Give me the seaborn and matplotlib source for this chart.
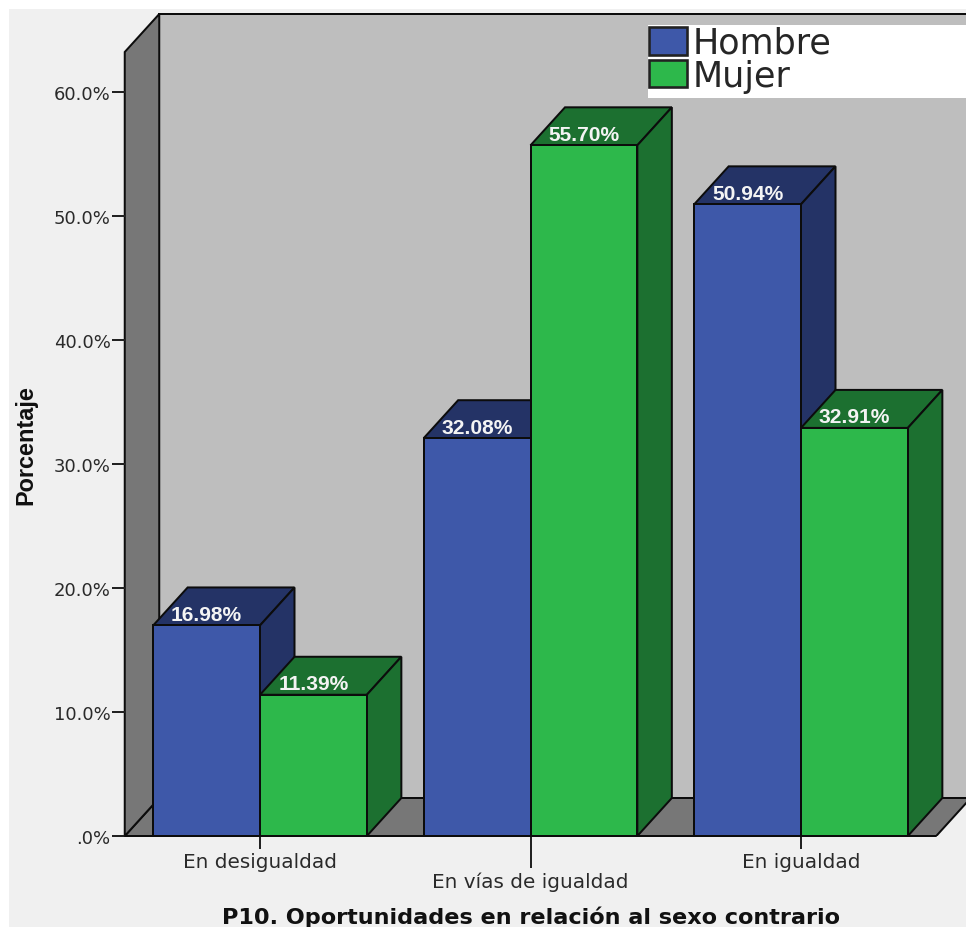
import matplotlib
matplotlib.use("Agg")
import matplotlib.pyplot as plt
from matplotlib.patches import Polygon, Rectangle, Patch
from matplotlib.lines import Line2D
from matplotlib.transforms import IdentityTransform
import pandas as pd
import seaborn as sns

# Survey results, percent of each sex per answer
categories = ["En desigualdad", "En vías de igualdad", "En igualdad"]
hombre = [16.98, 32.08, 50.94]
mujer = [11.39, 55.70, 32.91]
series_names = ["Hombre", "Mujer"]
y_ticks = [0, 10, 20, 30, 40, 50, 60]
y_tick_labels = [".0%", "10.0%", "20.0%", "30.0%", "40.0%", "50.0%", "60.0%"]

W, H = 966, 928
DPI = 100
PT = 72 / DPI  # points per pixel

FRONT = {"Hombre": "#3E58A9", "Mujer": "#2DB84B"}
DARK = {"Hombre": "#243366", "Mujer": "#1C7030"}
WALL = "#BEBEBE"
SIDE = "#777777"
EDGE = "#0c0c0c"
LW = 2 * PT

sns.set_theme(style="white")
plt.rcParams["font.family"] = ["Liberation Sans", "DejaVu Sans"]

df = pd.DataFrame({
    "categoria": categories * 2,
    "sexo": [series_names[0]] * 3 + [series_names[1]] * 3,
    "porcentaje": hombre + mujer,
})

fig = plt.figure(figsize=(W / DPI, H / DPI), dpi=DPI, facecolor="white")
fig.add_artist(Rectangle((9 / W, 0), 1, 1 - 10 / H, transform=fig.transFigure,
                         facecolor="#F0F0F0", edgecolor="none", zorder=-10))

# Axes run from the front floor corner to the top of the back wall
left, right, bottom, top = 124.75, 966, 837, 15
ax = fig.add_axes([left / W, 1 - bottom / H, (right - left) / W, (bottom - top) / H])
ax.patch.set_visible(False)
x_per_px = 1 / 270.5
y_per_px = 1 / 12.4
DX, DY = 34.5 * x_per_px, 38 * y_per_px

sns.barplot(data=df, x="categoria", y="porcentaje", hue="sexo", order=categories,
            hue_order=series_names, palette=FRONT, width=0.79, legend=False,
            edgecolor=EDGE, linewidth=LW, saturation=1, ax=ax)
ax.set_xlim(-0.5, -0.5 + (right - left) * x_per_px)
ax.set_ylim(0, (bottom - top) * y_per_px)
y_top = ax.get_ylim()[1]
x_max = ax.get_xlim()[1]

bars = sorted([p for p in ax.patches if p.get_width() < 0.5], key=lambda p: p.get_x())

# Box: back wall, left wall and floor
x0, x1 = -0.5, 2.5
ax.add_patch(Rectangle((x0 + DX, DY), 2 * x_max, y_top - DY, facecolor=WALL, edgecolor=EDGE,
                       linewidth=LW, zorder=0.1, clip_on=False))
ax.add_patch(Polygon([(x0, 0), (x0 + DX, DY), (x1 + DX, DY), (x1, 0)], closed=True,
                     facecolor=SIDE, edgecolor=EDGE, linewidth=LW, zorder=0.2))
ax.add_patch(Polygon([(x0, 0), (x0 + DX, DY), (x0 + DX, y_top), (x0, y_top - DY)], closed=True,
                     facecolor=SIDE, edgecolor=EDGE, linewidth=LW, zorder=0.3, clip_on=False))

# Extrude each bar, drawing left to right so nearer faces cover farther ones
for i, bar in enumerate(bars):
    name = series_names[i % 2]
    xa, w, h = bar.get_x(), bar.get_width(), bar.get_height()
    z = 1 + i
    ax.add_patch(Polygon([(xa, h), (xa + DX, h + DY), (xa + w + DX, h + DY), (xa + w, h)],
                         closed=True, facecolor=DARK[name], edgecolor=EDGE, linewidth=LW, zorder=z))
    ax.add_patch(Polygon([(xa + w, 0), (xa + w + DX, DY), (xa + w + DX, h + DY), (xa + w, h)],
                         closed=True, facecolor=DARK[name], edgecolor=EDGE, linewidth=LW, zorder=z))
    bar.set_zorder(z + 0.5)
    ax.annotate(f"{h:.2f}%", (xa + w / 2, h), xytext=(0, 11 * PT), textcoords="offset points",
                ha="center", va="center", color="#F4F4F4", fontsize=21 * PT,
                fontweight="bold", zorder=50)

# Front edge of the floor
ax.add_line(Line2D([x0, x1], [0, 0], color=EDGE, linewidth=LW, zorder=40, clip_on=False))

sns.despine(ax=ax, left=True, bottom=True, right=True, top=True)
ax.set_yticks(y_ticks, y_tick_labels)
ax.tick_params(axis="y", left=True, length=13 * PT, width=LW, color="#222222", pad=1 * PT,
               labelsize=18 * PT, labelcolor="#2a2a2a")
ax.tick_params(axis="x", bottom=True, length=13 * PT, width=LW, color="#222222", pad=3 * PT,
               labelsize=20 * PT, labelcolor="#2a2a2a")
ax.set_xticks(range(3), categories)
for lab in ax.get_xticklabels() + ax.get_yticklabels():
    lab.set_family(["DejaVu Sans"])
# The middle category label sits one row lower, on a longer tick
mid = ax.xaxis.get_major_ticks()[1]
mid.set_pad(23 * PT)
mid.tick1line.set_markersize(32 * PT)

ax.set_xlabel("P10. Oportunidades en relación al sexo contrario", fontsize=22.4 * PT,
              fontweight="bold", color="#111111", va="center", ha="center",
              family=["DejaVu Sans"])
ax.xaxis.set_label_coords((531 - left) / (right - left), (bottom - 917) / (bottom - top))
ax.set_ylabel("Porcentaje", fontsize=23.5 * PT, fontweight="bold", color="#111111",
              va="center", ha="center")
ax.yaxis.set_label_coords((26 - left) / (right - left), (bottom - 445) / (bottom - top))

# Legend on a white strip reaching the right edge
ax.add_patch(Rectangle((648, H - 99), 320, 73, transform=IdentityTransform(), facecolor="white",
                       edgecolor="none", zorder=60, clip_on=False))
handles = [Patch(facecolor=FRONT[n], edgecolor="#222222", linewidth=LW * 1.3) for n in series_names]
leg = ax.legend(handles, series_names, loc="upper left",
                bbox_to_anchor=(649, H - 27), bbox_transform=IdentityTransform(),
                frameon=False, borderpad=0, borderaxespad=0,
                handlelength=38 / 35, handleheight=29 / 35, handletextpad=6 / 35,
                labelspacing=-0.04, prop={"family": "DejaVu Sans", "size": 35 * PT})
leg.set_zorder(70)

fig.savefig("out.png", dpi=DPI)
